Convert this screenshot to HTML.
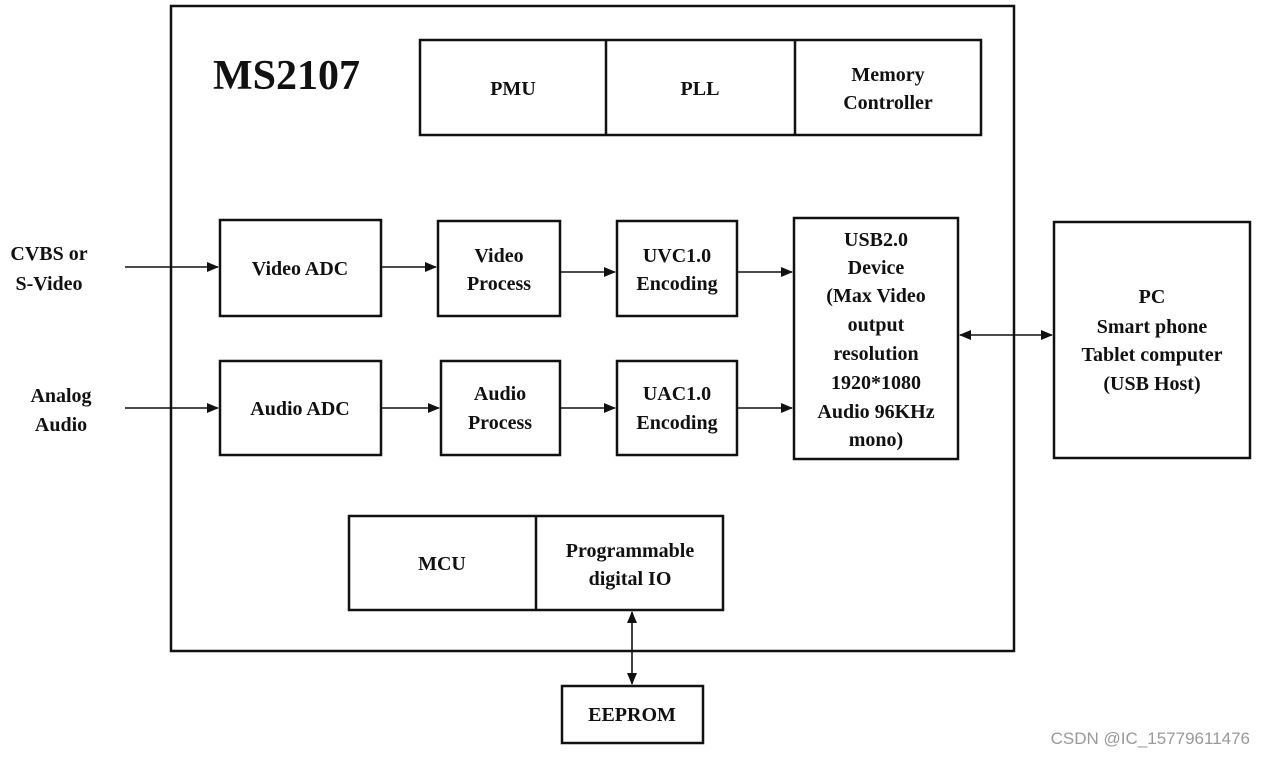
<!DOCTYPE html>
<html><head><meta charset="utf-8"><style>
html,body{margin:0;padding:0;background:#fff;}
svg{display:block}
text{font-family:"Liberation Serif",serif;font-weight:bold;font-size:20px;fill:#111;text-anchor:middle}
.b{fill:none;stroke:#111;stroke-width:2.5}
.l{stroke:#111;stroke-width:1.6}
</style></head><body>
<svg width="1267" height="757" viewBox="0 0 1267 757">
<defs><marker id="a" markerWidth="12" markerHeight="10" refX="11" refY="5" orient="auto-start-reverse" markerUnits="userSpaceOnUse"><path d="M0,0 L12,5 L0,10 z" fill="#111"/></marker></defs>
<rect class="b" x="171" y="6" width="843" height="645"/>
<text x="213" y="89" style="font-size:42px;text-anchor:start">MS2107</text>
<rect class="b" x="420" y="40" width="561" height="95"/>
<line class="b" x1="606" y1="40" x2="606" y2="135"/><line class="b" x1="795" y1="40" x2="795" y2="135"/>
<text x="513" y="95">PMU</text><text x="700" y="95">PLL</text>
<text x="888" y="81">Memory</text><text x="888" y="109">Controller</text>
<rect class="b" x="220" y="220" width="161" height="96"/><text x="300" y="275">Video ADC</text>
<rect class="b" x="438" y="221" width="122" height="95"/><text x="499" y="262">Video</text><text x="499" y="290">Process</text>
<rect class="b" x="617" y="221" width="120" height="95"/><text x="677" y="262">UVC1.0</text><text x="677" y="290">Encoding</text>
<rect class="b" x="794" y="218" width="164" height="241"/>
<text x="876" y="246">USB2.0</text><text x="876" y="274">Device</text><text x="876" y="302">(Max Video</text><text x="876" y="331">output</text><text x="876" y="360">resolution</text><text x="876" y="389">1920*1080</text><text x="876" y="418">Audio 96KHz</text><text x="876" y="446">mono)</text>
<rect class="b" x="220" y="361" width="161" height="94"/><text x="300" y="415">Audio ADC</text>
<rect class="b" x="441" y="361" width="119" height="94"/><text x="500" y="400">Audio</text><text x="500" y="429">Process</text>
<rect class="b" x="617" y="361" width="120" height="94"/><text x="677" y="400">UAC1.0</text><text x="677" y="429">Encoding</text>
<rect class="b" x="1054" y="222" width="196" height="236"/>
<text x="1152" y="303">PC</text><text x="1152" y="333">Smart phone</text><text x="1152" y="361">Tablet computer</text><text x="1152" y="390">(USB Host)</text>
<rect class="b" x="349" y="516" width="374" height="94"/><line class="b" x1="536" y1="516" x2="536" y2="610"/>
<text x="442" y="570">MCU</text><text x="630" y="557">Programmable</text><text x="630" y="585">digital IO</text>
<rect class="b" x="562" y="686" width="141" height="57"/><text x="632" y="721">EEPROM</text>
<text x="49" y="260">CVBS or</text><text x="49" y="290">S-Video</text>
<text x="61" y="402">Analog</text><text x="61" y="431">Audio</text>
<line class="l" x1="125" y1="267" x2="218" y2="267" marker-end="url(#a)"/>
<line class="l" x1="381" y1="267" x2="436" y2="267" marker-end="url(#a)"/>
<line class="l" x1="560" y1="272" x2="615" y2="272" marker-end="url(#a)"/>
<line class="l" x1="737" y1="272" x2="792" y2="272" marker-end="url(#a)"/>
<line class="l" x1="125" y1="408" x2="218" y2="408" marker-end="url(#a)"/>
<line class="l" x1="381" y1="408" x2="439" y2="408" marker-end="url(#a)"/>
<line class="l" x1="560" y1="408" x2="615" y2="408" marker-end="url(#a)"/>
<line class="l" x1="737" y1="408" x2="792" y2="408" marker-end="url(#a)"/>
<line class="l" x1="960" y1="335" x2="1052" y2="335" marker-start="url(#a)" marker-end="url(#a)"/>
<line class="l" x1="632" y1="612" x2="632" y2="684" marker-start="url(#a)" marker-end="url(#a)"/>
<text x="1250" y="744" style="font-family:'Liberation Sans',sans-serif;font-weight:normal;font-size:17px;fill:#999;text-anchor:end">CSDN @IC_15779611476</text>
</svg>
</body></html>
